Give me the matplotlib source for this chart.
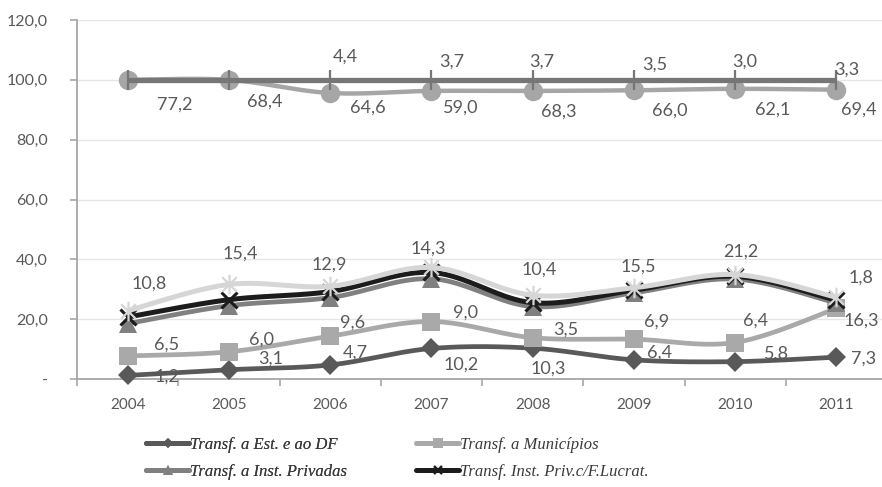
import numpy as np
import matplotlib
matplotlib.use("Agg")
import matplotlib.pyplot as plt
from matplotlib.lines import Line2D
from matplotlib.path import Path
from matplotlib.ticker import FuncFormatter, FixedLocator

# Participação por modalidade de aplicação (%), série empilhada
anos = ["2004", "2005", "2006", "2007", "2008", "2009", "2010", "2011"]
est_df = [1.2, 3.1, 4.7, 10.2, 10.3, 6.4, 5.8, 7.3]
municipios = [6.5, 6.0, 9.6, 9.0, 3.5, 6.9, 6.4, 16.3]
inst_privadas = [10.8, 15.4, 12.9, 14.3, 10.4, 15.5, 21.2, 1.8]
priv_fins_lucr = [2.2, 2.0, 2.0, 2.1, 1.3, 0.9, 0.9, 0.9]
serie_asterisco = [2.1, 5.1, 1.8, 1.7, 2.5, 0.8, 0.6, 1.0]
serie_circulo = [77.2, 68.4, 64.6, 59.0, 68.3, 66.0, 62.1, 69.4]
serie_barra = [0.0, 0.0, 4.4, 3.7, 3.7, 3.5, 3.0, 3.3]

nomes = ["Transf. a Est. e ao DF", "Transf. a Municípios",
         "Transf. a Inst. Privadas", "Transf. Inst. Priv.c/F.Lucrat."]

W, H, DPI = 882, 487, 100
fig = plt.figure(figsize=(W / DPI, H / DPI), dpi=DPI)
ax = fig.add_axes([77 / W, 108 / H, 810 / W, 359 / H])

asterisco = Path([(0, -1), (0, 1), (-0.75, -0.75), (0.75, 0.75), (-0.75, 0.75), (0.75, -0.75)],
                 [Path.MOVETO, Path.LINETO, Path.MOVETO, Path.LINETO, Path.MOVETO, Path.LINETO])

# estilo de cada série: cor, marcador, tamanho, borda
estilos = [
    dict(color="#595959", marker="D", ms=10, mew=0, lw=3.4),
    dict(color="#A9A9A9", marker="s", ms=13.5, mew=0, lw=3.4),
    dict(color="#808080", marker="^", ms=13, mew=0, lw=3.4),
    dict(color="#1C1C1C", marker="x", ms=11, mew=2.2, lw=3.6),
    dict(color="#D6D6D6", marker=asterisco, ms=14, mew=1.6, lw=3.6),
    dict(color="#A6A6A6", marker="o", ms=14, mew=0, lw=3.2),
    dict(color="#767676", marker="|", ms=14, mew=1.6, lw=3.8),
]

series = [est_df, municipios, inst_privadas, priv_fins_lucr,
          serie_asterisco, serie_circulo, serie_barra]


def suavizar(xs, ys, n=40):
    """Curva suave (Bezier com tangentes de Catmull-Rom) entre os pontos."""
    pts = np.column_stack([xs, ys]).astype(float)
    partes = []
    for i in range(len(pts) - 1):
        p0 = pts[i - 1] if i > 0 else pts[i]
        p1, p2 = pts[i], pts[i + 1]
        p3 = pts[i + 2] if i + 2 < len(pts) else pts[i + 1]
        c1 = p1 + (p2 - p0) / 6.0
        c2 = p2 - (p3 - p1) / 6.0
        t = np.linspace(0, 1, n)[:, None]
        seg = (1 - t) ** 3 * p1 + 3 * (1 - t) ** 2 * t * c1 + 3 * (1 - t) * t ** 2 * c2 + t ** 3 * p2
        partes.append(seg if i == 0 else seg[1:])
    return np.vstack(partes)


x = np.arange(len(anos))
acumulado = np.cumsum(np.array(series, dtype=float), axis=0)

for k, (vals, st) in enumerate(zip(series, estilos)):
    ys = acumulado[k]
    curva = suavizar(x, ys)
    z = 3 + k
    ax.plot(curva[:, 0], curva[:, 1], color=st["color"], lw=st["lw"],
            solid_capstyle="butt", zorder=z, clip_on=False)
    ax.plot(x, ys, linestyle="none", marker=st["marker"], ms=st["ms"],
            color=st["color"], mec=st["color"], mew=st["mew"], zorder=z, clip_on=False)

# posição dos rótulos (deslocamento em pixels a partir do ponto)
desloc_rotulos = {
    0: [(39, -1), (42, 11), (25, 12), (30, -16), (16, -20), (26, 7), (41, 8), (27, -1)],
    1: [(39, 11), (33, 12), (22, 14), (34, 9), (33, 8), (23, 18), (20, 22), (25, -12)],
    2: [(22, 40), (11, 52), (-1, 33), (-3, 30), (7, 37), (4, 26), (6, 27), (25, 25)],
    5: [(47, -25), (36, -22), (38, -15), (29, -17), (26, -21), (36, -20), (38, -21), (22, -20)],
    6: [(15, 23), (20, 18), (15, 23), (20, 18), (9, 18), (21, 15), (10, 18), (10, 10)],
}

fmt = lambda v: f"{v:.1f}".replace(".", ",")
for k, offs in desloc_rotulos.items():
    for i, (dx, dy) in enumerate(offs):
        v = series[k][i]
        if v == 0:
            continue
        ax.annotate(fmt(v), (x[i], acumulado[k][i]), xytext=(dx, dy),
                    textcoords="offset pixels", ha="center", va="center",
                    fontsize=13, family="Lato", color="#595959", zorder=20,
                    annotation_clip=False)

# eixos
ax.set_xlim(-0.5, len(anos) - 0.5)
ax.set_ylim(0, 120)
ax.set_yticks(np.arange(0, 121, 20))
ax.yaxis.set_major_formatter(FuncFormatter(lambda v, p: "-" if v == 0 else fmt(v)))
ax.xaxis.set_major_locator(FixedLocator(np.arange(-0.5, len(anos), 1.0)))
ax.xaxis.set_major_formatter(FuncFormatter(lambda v, p: ""))
ax.xaxis.set_minor_locator(FixedLocator(x))
ax.set_xticklabels(anos, minor=True)
ax.tick_params(axis="x", which="major", length=5, width=1.2, color="#A6A6A6", direction="out")
ax.tick_params(axis="x", which="minor", length=0, pad=14, labelsize=11, labelcolor="#595959")
ax.tick_params(axis="y", length=5, width=1.2, color="#A6A6A6", labelsize=11.5,
               labelcolor="#595959", pad=16)
for lab in ax.get_xticklabels(minor=True) + ax.get_yticklabels():
    lab.set_family("Lato")
ax.grid(axis="y", color="#E6E6E6", lw=1.0, zorder=0)
ax.set_axisbelow(True)
for s in ("top", "right"):
    ax.spines[s].set_visible(False)
for s in ("left", "bottom"):
    ax.spines[s].set_color("#A6A6A6")
    ax.spines[s].set_linewidth(1.3)

# legenda em duas colunas
handles = []
for st in estilos[:4]:
    handles.append(Line2D([], [], color=st["color"], lw=3.6, marker=st["marker"],
                          ms=st["ms"] * 0.5, mew=st["mew"] * 0.8, mec=st["color"],
                          solid_capstyle="round"))
fonte_leg = dict(family="Liberation Serif", style="italic", size=12)
for col, (idx, x0) in enumerate([((0, 2), 146), ((1, 3), 416)]):
    leg = fig.legend([handles[i] for i in idx], [nomes[i] for i in idx], ncol=1,
                     loc="center left", bbox_to_anchor=(x0 / W, 1 - 458.5 / H),
                     frameon=False, prop=fonte_leg, labelcolor="#3A3A3A",
                     handlelength=2.6, handletextpad=0.05, labelspacing=0.68,
                     borderpad=0, borderaxespad=0)
    if col == 0:
        fig.add_artist(leg)

fig.savefig("out.png", dpi=DPI)
